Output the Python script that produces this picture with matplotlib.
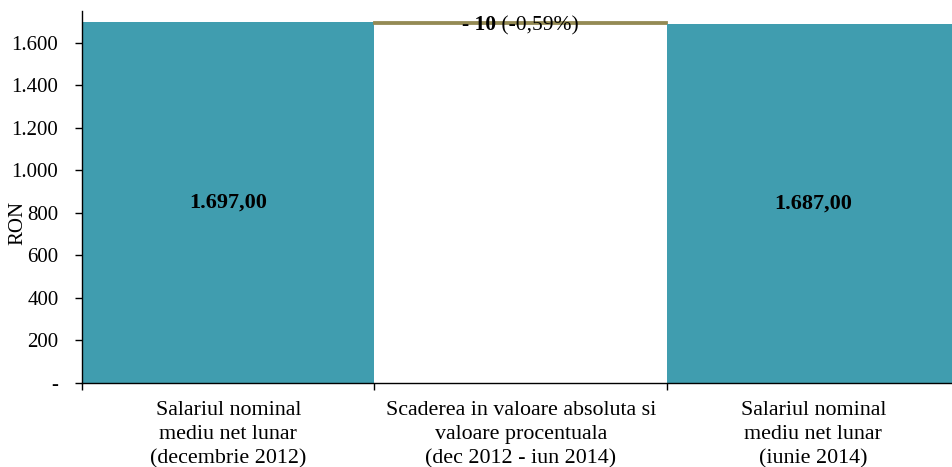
import matplotlib
matplotlib.use("Agg")
import matplotlib.pyplot as plt
import numpy as np
from matplotlib.transforms import offset_copy

plt.rcParams['font.family'] = ['Liberation Serif', 'DejaVu Serif']

categories = ["Salariul nominal\nmediu net lunar\n(decembrie 2012)",
              "Scaderea in valoare absoluta si\nvaloare procentuala\n(dec 2012 - iun 2014)",
              "Salariul nominal\nmediu net lunar\n(iunie 2014)"]
start_value = 1697.0
end_value = 1687.0
change = -10.0
change_label_bold = "- 10"
change_label_pct = " (-0,59%)"
bar_labels = ["1.697,00", "1.687,00"]
yticks = [0, 200, 400, 600, 800, 1000, 1200, 1400, 1600]
ytick_labels = ["-", "200", "400", "600", "800", "1.000", "1.200", "1.400", "1.600"]

teal = "#409DAF"
olive = "#948A54"

W, H = 953, 467
fig = plt.figure(figsize=(W / 100, H / 100), dpi=100)
left_px, right_px, top_px, bottom_px = 82, 959.5, 11, 383
ax = fig.add_axes([left_px / W, 1 - bottom_px / H,
                   (right_px - left_px) / W, (bottom_px - top_px) / H])

x = np.arange(3)
ax.bar(x[0], start_value, width=1.0, color=teal, linewidth=0)
ax.bar(x[1], abs(change), bottom=min(start_value, end_value), width=1.0,
       color=olive, edgecolor=olive, linewidth=1.3)
ax.bar(x[2], end_value, width=1.0, color=teal, linewidth=0)

ax.set_xlim(-0.5, 2.5)
ax.set_ylim(0, 1750)

ax.text(x[0], start_value / 2, bar_labels[0], ha="center", va="center",
        fontsize=16, fontweight="bold")
ax.text(x[2], end_value / 2, bar_labels[1], ha="center", va="center",
        fontsize=16, fontweight="bold")

# change label: bold part + regular part, centered as a group
ty = start_value - 15
t1 = ax.text(x[1], ty, change_label_bold, ha="left", va="center",
             fontsize=15.5, fontweight="bold")
t2 = ax.text(x[1], ty, change_label_pct, ha="left", va="center",
             fontsize=15.5)
fig.canvas.draw()
r = fig.canvas.get_renderer()
w1 = t1.get_window_extent(r).width
w2 = t2.get_window_extent(r).width
tot = w1 + w2
t1.set_transform(offset_copy(ax.transData, fig=fig, x=-tot / 2, y=0, units='dots'))
t2.set_transform(offset_copy(ax.transData, fig=fig, x=-tot / 2 + w1, y=0, units='dots'))

ax.set_yticks(yticks)
ax.set_yticklabels(ytick_labels, fontsize=15)
ax.tick_params(axis='y', direction='out', length=5, pad=12, width=1)

ax.set_xticks(x)
ax.set_xticklabels(categories, fontsize=15.8, linespacing=1.36)
ax.tick_params(axis='x', which='major', length=0, pad=13)
ax.set_xticks([-0.5, 0.5, 1.5, 2.5], minor=True)
ax.tick_params(axis='x', which='minor', direction='out', length=5, width=1)

for s in ['top', 'right']:
    ax.spines[s].set_visible(False)
ax.spines['left'].set_linewidth(1)
ax.spines['bottom'].set_linewidth(1)

fig.text(18 / W, 1 - 223 / H, "RON", rotation=90, ha="center", va="center",
         fontsize=15)

fig.savefig("out.png", dpi=100)
